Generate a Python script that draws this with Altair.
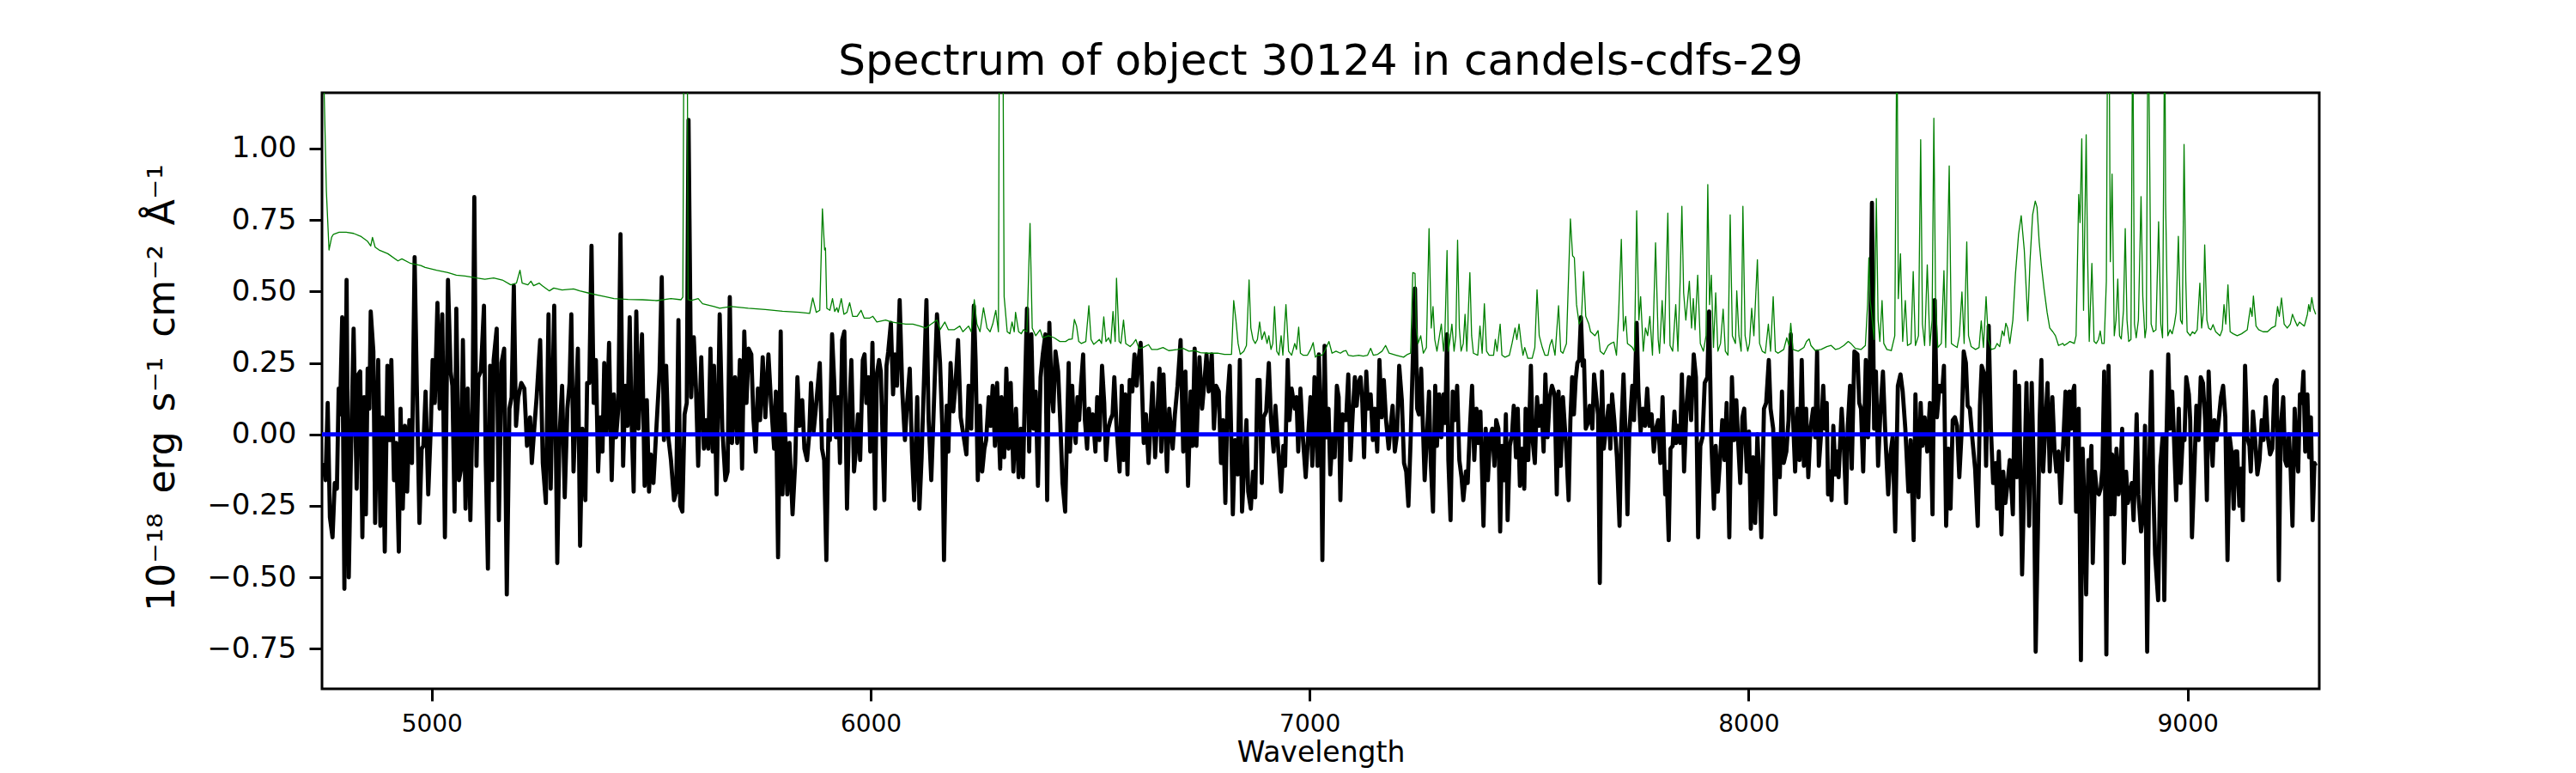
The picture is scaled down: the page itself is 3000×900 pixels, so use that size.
import altair as alt
import pandas as pd

TITLE = "Spectrum of object 30124 in candels-cdfs-29"
X_TITLE = "Wavelength"
Y_TITLE = "10⁻¹⁸ \u2009erg \u2009s⁻¹ \u2009cm⁻² \u2009Å⁻¹"
X_TICKS = [5000, 6000, 7000, 8000, 9000]
Y_TICKS = [-0.75, -0.5, -0.25, 0.0, 0.25, 0.5, 0.75, 1.0]

# observed flux (black), (wavelength [A], flux)
FLUX_A = [(4753,-0.10),(4758,-0.16),(4763,0.11),(4768,-0.29),(4774,-0.36),(4779,-0.17),(4784,-0.19),(4788,0.16),(4791,0.07),(4796,0.41),
(4801,-0.54),(4806,0.54),(4811,-0.50),(4815,-0.15),(4822,0.37),(4829,-0.19),(4833,0.21),(4837,0.22),(4842,-0.36),(4846,0.13),
(4850,-0.28),(4854,0.23),(4858,0.09),(4861,0.43),(4867,0.29),(4871,-0.31),(4878,0.26),(4883,-0.32),(4888,0.06),(4893,-0.41),
(4899,0.24),(4904,-0.02),(4908,0.26),(4914,-0.16),(4919,-0.03),(4925,-0.41),(4929,0.09),(4934,-0.26),(4939,0.03),(4944,-0.20),
(4949,0.05),(4955,-0.10),(4961,0.62),(4966,0.17),(4972,-0.31),(4977,-0.05),(4981,-0.04),(4986,0.15),(4992,-0.21),(4998,0.03),
(5002,0.26),(5007,0.11),(5013,0.46),(5018,0.09),(5024,0.42),(5030,-0.36),(5037,0.54),(5043,0.22),(5047,0.17),(5052,-0.27),
(5056,0.44),(5062,-0.16),(5067,-0.12),(5071,0.33),(5077,-0.26),(5082,0.16),(5088,-0.30),(5093,0.10),(5097,0.83),(5102,-0.11),
(5106,0.20),(5112,0.22),(5119,0.45),(5123,-0.09),(5128,-0.47),(5133,0.24),(5138,-0.16),(5141,0.26),(5148,0.37),(5153,-0.30),
(5159,0.25),(5165,0.30),(5171,-0.56),(5177,0.09),(5182,0.13),(5187,0.52),(5192,0.03),(5197,0.13),(5204,0.18),(5211,0.16),
(5217,-0.04),(5224,0.06),(5228,-0.10),(5234,0.03),(5239,0.13),(5247,0.33),(5253,-0.10),(5260,-0.24),(5266,0.42),(5271,-0.19),
(5279,0.45),(5286,-0.45),(5291,-0.01),(5297,0.17),(5303,-0.22),(5309,0.09),(5314,0.18),(5318,0.42),(5323,-0.13)]

FLUX_B = [(5333,0.30),(5338,-0.39),(5343,0.02),(5350,-0.23),(5354,0.18),(5359,0.18),(5364,0.66),(5369,0.11),(5374,0.26),(5379,-0.13),
(5384,0.06),(5389,-0.06),(5393,0.25),(5398,0.00),(5404,0.32),(5410,-0.16),(5415,0.14),(5420,-0.01),(5425,0.09),(5430,0.70),
(5436,-0.11),(5441,0.17),(5446,0.03),(5451,0.41),(5455,0.06),(5460,-0.20),(5466,0.43),(5471,0.02),(5479,0.35),(5485,-0.18),
(5490,0.12),(5495,-0.20),(5499,-0.07),(5505,-0.17),(5511,0.00),(5519,0.22),(5524,0.55),(5529,-0.02),(5534,0.24),(5539,-0.01),
(5545,-0.09),(5552,-0.23),(5557,-0.20),(5562,0.40),(5566,-0.25),(5571,-0.27),(5576,0.07),(5581,0.11),(5585,1.10),(5591,0.13),
(5597,0.34),(5602,0.16),(5607,-0.11),(5614,0.27),(5620,-0.05),(5625,0.05),(5630,-0.05),(5635,0.30),(5640,-0.06),(5643,0.24),
(5649,-0.21),(5656,0.42),(5662,0.02),(5669,-0.16),(5674,-0.13),(5679,0.48),(5684,-0.03),(5691,0.20),(5696,-0.03),(5702,0.26),
(5707,-0.12),(5712,0.36),(5717,0.11),(5722,0.30),(5728,0.28),(5733,0.05),(5738,-0.06),(5743,0.16),(5748,0.05),(5754,0.27),
(5760,0.06),(5767,0.28),(5773,0.11),(5780,-0.05),(5784,0.15),(5789,-0.43),(5795,0.36),(5799,-0.21),(5804,0.07),(5810,-0.21),
(5815,-0.03),(5822,-0.28),(5828,-0.10),(5833,0.20),(5838,0.03),(5844,0.12),(5849,-0.05),(5855,-0.09),(5860,0.00),(5864,0.18),
(5870,0.01),(5875,0.09)]

FLUX_C = [(5884,0.25),(5889,-0.05),(5894,-0.09),(5899,-0.44),(5904,0.05),(5907,-0.02),(5912,0.35),(5917,0.18),(5921,-0.01),(5926,0.13),
(5930,-0.10),(5935,0.33),(5940,0.36),(5946,-0.26),(5951,0.07),(5956,0.26),(5962,-0.13),(5966,-0.06),(5971,0.07),(5976,-0.09),
(5982,0.26),(5986,0.28),(5990,0.11),(5995,0.20),(5999,-0.06),(6004,0.32),(6010,-0.26),(6014,0.21),(6019,0.26),(6023,0.22),
(6031,-0.23),(6036,0.24),(6040,0.29),(6046,0.39),(6051,0.14),(6055,0.28),(6060,0.17),(6066,0.47),(6072,0.15),(6078,-0.02),
(6083,0.11),(6089,0.23),(6094,-0.06),(6099,-0.23),(6106,0.13),(6111,-0.26),(6116,-0.08),(6120,0.12),(6127,0.47),(6132,0.05),
(6138,-0.16),(6145,0.15),(6151,0.42),(6158,0.25),(6163,0.03),(6167,-0.44),(6173,0.10),(6177,-0.06),(6182,0.25),(6188,0.08),
(6193,0.17),(6199,0.33),(6205,0.06),(6213,-0.02),(6218,-0.07),(6223,0.17),(6229,0.02),(6235,0.45),(6239,0.26),(6244,-0.16),
(6249,0.10),(6254,-0.13),(6259,-0.05),(6263,-0.02),(6269,0.13),(6273,0.03),(6278,0.17),(6283,-0.04),(6288,0.18),(6295,-0.12),
(6298,0.13),(6304,-0.08),(6309,0.23),(6314,-0.05),(6319,0.18),(6325,-0.13),(6331,0.09),(6337,-0.15),(6342,0.02),(6347,-0.15),
(6351,0.13),(6356,0.44),(6361,-0.06),(6366,0.35),(6371,0.02),(6376,0.15),(6381,-0.18),(6387,0.20),(6392,0.28),(6398,0.35),
(6402,-0.23),(6407,0.39),(6412,0.15),(6416,0.08),(6421,0.29),(6427,0.22),(6432,0.04),(6437,-0.17),(6443,-0.27)]

FLUX_D = [(6451,0.25),(6454,-0.06),(6459,0.17),(6463,0.02),(6467,-0.03),(6471,0.13),(6475,0.05),(6479,0.17),(6484,0.28),(6488,0.05),
(6493,-0.05),(6497,0.09),(6502,0.00),(6506,0.07),(6512,-0.06),(6516,0.13),(6521,-0.02),(6527,0.24),(6532,0.11),(6536,-0.09),
(6541,0.02),(6546,0.05),(6551,0.07),(6555,0.20),(6560,0.03),(6567,-0.13),(6572,0.17),(6576,-0.09),(6580,0.14),(6585,-0.14),
(6590,0.19),(6596,0.15),(6601,0.28),(6606,0.17),(6610,0.26),(6615,0.32),(6622,-0.03),(6627,0.07),(6633,-0.10),(6637,0.02),
(6642,0.18),(6648,-0.08),(6653,0.07),(6658,0.23),(6662,-0.06),(6667,0.21),(6675,-0.13),(6680,0.09),(6688,-0.05),(6693,0.07),
(6699,0.17),(6706,0.33),(6712,-0.06),(6717,0.22),(6723,-0.18),(6729,0.15),(6733,-0.04),(6738,0.30),(6742,-0.04),(6749,0.27),
(6755,0.09),(6760,0.18),(6765,0.28),(6770,0.15),(6777,0.28),(6782,0.02),(6787,0.17),(6793,0.15),(6798,-0.10),(6803,0.05),
(6808,-0.24),(6813,0.13),(6818,0.24),(6825,-0.28),(6830,-0.02),(6836,-0.14),(6841,0.26),(6846,-0.27),(6851,-0.11),(6856,0.05),
(6860,-0.20),(6866,-0.26),(6871,-0.13),(6876,-0.22),(6881,0.19),(6886,0.19),(6891,-0.17),(6895,0.06),(6901,0.08),(6907,0.25),
(6912,0.05),(6918,-0.06),(6922,0.10),(6927,-0.02),(6935,-0.20),(6940,-0.04),(6944,-0.11),(6950,0.26),(6954,0.05),(6959,0.16),
(6966,0.09),(6970,0.13),(6974,-0.06),(6979,0.16),(6985,-0.02),(6991,-0.15),(6996,-0.02),(7002,0.13),(7006,-0.11),(7011,0.20)]

FLUX_E = [(7018,-0.11),(7021,0.28),(7026,0.02),(7029,-0.44),(7034,0.31),(7038,-0.01),(7043,0.09),(7047,-0.14),(7052,-0.01),(7057,-0.08),
(7062,0.17),(7066,0.13),(7070,-0.23),(7075,0.07),(7080,0.05),(7083,0.05),(7088,0.21),(7093,-0.09),(7098,0.07),(7103,0.20),
(7107,0.10),(7111,0.18),(7116,0.20),(7120,0.11),(7124,-0.08),(7129,0.22),(7133,0.09),(7139,0.14),(7144,-0.02),(7148,0.09),
(7154,-0.06),(7159,0.26),(7164,0.06),(7169,0.19),(7174,0.05),(7180,-0.05),(7184,0.02),(7189,0.10),(7194,-0.06),(7199,0.00),
(7204,0.24),(7210,0.12),(7215,-0.10),(7220,-0.13),(7225,-0.25),(7230,-0.02),(7235,0.26),(7240,0.51),(7245,0.09),(7249,0.07),
(7254,0.23),(7258,0.03),(7262,-0.16),(7267,-0.01),(7272,0.15),(7276,-0.10),(7281,-0.27),(7286,0.17),(7290,-0.04),(7295,0.14),
(7300,-0.01),(7305,0.14),(7309,0.04),(7313,0.35),(7316,-0.09),(7321,-0.30),(7326,0.15),(7331,0.05),(7336,0.17),(7341,-0.09),
(7346,-0.15),(7350,-0.23),(7356,-0.13),(7360,-0.17),(7365,0.02),(7370,0.17),(7375,-0.09),(7380,0.09),(7384,-0.03),(7389,0.08),
(7396,-0.32),(7401,0.02),(7406,-0.16),(7411,-0.01),(7416,0.02),(7421,-0.11),(7425,0.05),(7430,0.02),(7434,-0.34),(7438,-0.04),
(7443,-0.16),(7447,0.07),(7451,-0.30),(7456,-0.04),(7461,0.00),(7465,0.10),(7470,-0.08),(7474,0.09),(7479,-0.18),(7484,-0.05),
(7489,-0.19),(7492,0.09),(7498,-0.09),(7504,0.24),(7508,-0.02),(7513,-0.10),(7518,0.13),(7523,0.03),(7528,0.10),(7533,-0.06),
(7537,0.21),(7542,-0.01),(7547,0.13),(7552,0.17),(7558,0.14),(7563,-0.21),(7567,0.15),(7572,-0.11),(7577,0.13)]

FLUX_F = [(7585,-0.06),(7590,-0.23),(7594,0.05),(7598,0.20),(7602,0.07),(7606,0.19),(7610,0.25),(7614,0.26),(7618,0.41),(7622,0.24),
(7625,0.26),(7629,0.02),(7634,0.04),(7638,0.10),(7644,0.02),(7648,0.21),(7653,0.13),(7657,0.07),(7661,-0.52),(7666,0.22),
(7670,-0.05),(7675,0.02),(7681,0.10),(7685,-0.05),(7689,0.14),(7694,0.05),(7700,-0.08),(7706,-0.32),(7710,0.02),(7715,0.21),
(7720,-0.01),(7724,-0.28),(7728,0.00),(7735,0.17),(7739,0.05),(7745,0.39),(7749,0.15),(7754,0.01),(7759,0.09),(7764,0.03),
(7769,0.16),(7774,0.03),(7779,0.07),(7784,-0.06),(7789,0.02),(7794,0.05),(7799,-0.10),(7804,0.13),(7810,-0.21),(7813,-0.13),
(7818,-0.37),(7822,-0.05),(7827,-0.04),(7831,0.08),(7835,-0.03),(7839,0.03),(7844,-0.03),(7848,0.21),(7853,-0.13),(7859,0.11),
(7864,0.20),(7869,0.05),(7875,0.28),(7880,0.20),(7885,-0.36),(7890,-0.04),(7895,-0.01),(7900,0.18),(7906,0.20),(7910,0.43),
(7915,-0.02),(7921,-0.26),(7925,-0.04),(7930,-0.20),(7936,-0.06),(7940,0.05),(7945,-0.09),(7950,0.11),(7956,-0.36),(7962,0.20),
(7967,-0.02),(7972,0.12),(7976,-0.02),(7981,-0.17),(7986,0.06),(7990,0.09),(7996,-0.13),(8001,0.01),(8005,-0.33),(8010,-0.08),
(8015,-0.31),(8020,0.00),(8025,-0.19),(8029,-0.36),(8035,0.09),(8040,0.11),(8046,0.26),(8050,0.09),(8056,0.02),(8061,-0.28),
(8065,0.00),(8071,-0.15),(8076,0.15),(8080,-0.10),(8086,-0.06),(8091,0.05),(8096,0.35),(8100,0.10),(8106,-0.13),(8111,0.09),
(8116,-0.09),(8121,0.26),(8126,-0.11),(8131,0.09),(8136,-0.15),(8141,0.02),(8147,0.09)]

FLUX_G = [(8152,-0.01),(8156,0.29),(8160,-0.11),(8165,0.00),(8170,0.17),(8174,0.02),(8178,0.11),(8181,-0.21),(8186,-0.13),(8189,-0.23),
(8193,0.03),(8198,-0.14),(8201,-0.06),(8205,-0.15),(8212,0.09),(8217,-0.04),(8222,-0.24),(8226,0.03),(8231,0.17),(8235,-0.12),
(8241,0.29),(8248,0.28),(8252,0.11),(8256,0.09),(8261,-0.13),(8267,0.26),(8272,-0.01),(8276,0.20),(8281,0.81),(8286,0.02),
(8290,0.22),(8295,-0.11),(8300,0.07),(8306,0.22),(8312,-0.02),(8318,-0.21),(8323,-0.07),(8328,-0.01),(8334,-0.34),(8340,0.17),
(8346,0.21),(8351,0.15),(8357,0.02),(8364,-0.20),(8369,-0.02),(8376,-0.37),(8380,0.14),(8387,-0.22),(8392,0.11),(8396,-0.04),
(8401,0.06),(8407,-0.06),(8413,0.11),(8419,-0.28),(8424,0.47),(8429,0.06),(8435,0.17),(8441,0.15),(8445,0.24),(8450,-0.32),
(8455,-0.05),(8460,-0.26),(8465,0.05),(8470,0.06),(8475,0.03),(8480,-0.15),(8485,0.00),(8490,0.29),(8495,0.25),(8499,0.10),
(8504,0.09),(8510,-0.02),(8516,-0.12),(8522,-0.32),(8527,0.10),(8531,0.24),(8537,0.21),(8541,-0.11),(8547,0.38),(8552,0.02),
(8557,-0.17),(8563,-0.10),(8566,-0.26),(8570,-0.06),(8576,-0.35),(8580,-0.13),(8585,-0.24),(8590,-0.17),(8595,-0.09),(8602,-0.28),
(8607,0.22),(8611,-0.15),(8616,0.17),(8623,-0.49),(8628,-0.16),(8633,0.18),(8639,-0.32),(8645,0.18),(8650,-0.15),(8654,-0.76),
(8659,-0.34),(8663,0.05),(8667,0.26),(8671,-0.13),(8676,0.03),(8681,0.18),(8686,-0.13),(8692,0.13),(8697,-0.06),(8701,-0.13),
(8706,-0.06),(8711,-0.24),(8715,-0.09)]

FLUX_H = [(8722,0.15),(8727,-0.09),(8731,0.15),(8735,0.02),(8739,0.15),(8742,0.17),(8746,-0.27),(8752,0.09),(8757,-0.79),(8761,-0.05),
(8765,-0.25),(8769,-0.56),(8774,-0.09),(8778,-0.15),(8781,-0.04),(8784,-0.45),(8789,-0.13),(8793,-0.20),(8798,-0.21),(8802,-0.19),
(8806,-0.12),(8810,0.22),(8815,-0.77),(8820,0.24),(8825,-0.28),(8828,-0.07),(8833,-0.28),(8838,-0.05),(8843,-0.21),(8847,-0.13),
(8851,0.02),(8855,-0.45),(8860,-0.13),(8864,-0.24),(8869,-0.20),(8873,-0.17),(8877,-0.30),(8881,-0.09),(8884,0.07),(8888,-0.21),
(8894,-0.34),(8899,-0.27),(8903,0.03),(8908,-0.76),(8913,-0.09),(8918,0.22),(8922,-0.19),(8926,-0.42),(8933,-0.58),(8938,-0.11),
(8943,-0.01),(8947,-0.58),(8952,-0.01),(8956,0.28),(8960,0.02),(8965,0.15),(8969,-0.01),(8974,-0.23),(8980,0.09),(8984,-0.17),
(8989,-0.01),(8993,-0.02),(8997,0.20),(9003,0.14),(9006,0.05),(9010,-0.36),(9016,-0.10),(9020,0.10),(9025,-0.02),(9030,0.20),
(9035,0.18),(9040,0.05),(9044,-0.23),(9048,0.22),(9053,0.00),(9057,-0.11),(9061,0.05),(9066,-0.02),(9071,0.05),(9076,0.13),
(9081,0.17),(9086,0.06),(9091,-0.44),(9096,-0.01),(9100,-0.06),(9105,-0.26),(9109,-0.06),(9113,-0.06),(9118,-0.25),(9122,-0.12),
(9126,-0.30),(9131,0.24),(9136,-0.01),(9141,-0.04),(9144,-0.13),(9149,0.08),(9154,-0.02),(9159,-0.14),(9164,-0.09),(9169,0.05),
(9173,-0.02),(9178,0.13),(9183,-0.01),(9188,-0.07),(9193,-0.05),(9198,0.17),(9203,0.19),(9208,-0.51),(9212,0.02),(9218,0.13),
(9222,-0.09),(9226,-0.11),(9231,0.00),(9235,-0.13),(9239,-0.32),(9244,0.09),(9248,-0.05),(9252,-0.13),(9256,0.14),(9260,0.11),
(9264,0.22),(9268,-0.06),(9273,0.14),(9277,-0.08),(9281,0.06),(9285,-0.30),(9289,-0.10),(9292,-0.11)]

# noise spectrum (green), (wavelength [A], sigma)
ERR_A = [(4750,1.80),(4755,1.19),(4760,0.85),(4766,0.645),(4772,0.69),(4776,0.70),(4789,0.707),(4805,0.707),(4822,0.703),(4838,0.693),
(4854,0.675),(4861,0.659),(4865,0.689),(4871,0.655),(4880,0.645),(4900,0.632),(4923,0.607),(4932,0.614),(4952,0.598),(4975,0.591),
(4985,0.584),(5011,0.574),(5037,0.566),(5056,0.557),(5076,0.554),(5102,0.547),(5121,0.543),(5141,0.547),(5161,0.540),(5180,0.523),
(5193,0.529),(5201,0.574),(5206,0.529),(5219,0.523),(5226,0.536),(5232,0.520),(5245,0.529),(5252,0.520),(5268,0.502),(5278,0.512),
(5297,0.505),(5323,0.509)]
ERR_B = [(5337,0.502),(5356,0.495),(5376,0.488),(5395,0.482),(5415,0.475),(5447,0.472),(5480,0.471),(5513,0.468),(5545,0.475),(5568,0.471),
(5572,0.480),(5576,2.0),(5581,2.0),(5584,0.471),(5591,0.468),(5607,0.475),(5617,0.457),(5643,0.447),(5656,0.441),(5682,0.447),
(5721,0.441),(5760,0.437),(5799,0.431),(5838,0.427),(5861,0.423),(5868,0.477),(5876,0.427)]
ERR_C = [(5884,0.434),(5890,0.789),(5895,0.645),(5897,0.652),(5900,0.441),(5907,0.434),(5913,0.475),(5918,0.430),(5923,0.443),(5926,0.427),
(5933,0.475),(5939,0.420),(5946,0.427),(5952,0.461),(5959,0.413),(5969,0.413),(5978,0.434),(5985,0.407),(5998,0.407),(6005,0.413),
(6014,0.393),(6034,0.400),(6047,0.393),(6066,0.389),(6080,0.386),(6096,0.386),(6112,0.379),(6125,0.372),(6138,0.386),(6151,0.400),
(6158,0.366),(6169,0.393),(6177,0.366),(6190,0.366),(6203,0.379),(6210,0.359),(6223,0.379),(6229,0.359),(6236,0.471),(6242,0.386),
(6249,0.359),(6257,0.443),(6265,0.372),(6272,0.359),(6278,0.386),(6285,0.434),(6291,0.359),(6295,2.5),(6298,2.5),(6304,0.482),
(6311,0.359),(6317,0.352),(6322,0.393),(6327,0.359),(6330,0.427),(6337,0.359),(6343,0.352),(6348,0.366),(6356,0.359),(6363,0.738),
(6368,0.372),(6376,0.345),(6386,0.366),(6392,0.338),(6405,0.345),(6418,0.338),(6431,0.325),(6444,0.325)]
ERR_D = [(6451,0.332),(6459,0.334),(6464,0.402),(6469,0.379),(6474,0.325),(6480,0.318),(6490,0.325),(6497,0.450),(6502,0.332),(6508,0.315),
(6516,0.325),(6521,0.332),(6526,0.318),(6531,0.411),(6536,0.325),(6542,0.338),(6547,0.318),(6552,0.430),(6557,0.325),(6560,0.546),
(6566,0.325),(6570,0.318),(6576,0.400),(6581,0.318),(6591,0.307),(6598,0.318),(6604,0.332),(6611,0.301),(6620,0.304),(6633,0.314),
(6640,0.297),(6653,0.297),(6666,0.304),(6679,0.293),(6699,0.297),(6712,0.301),(6725,0.291),(6738,0.293),(6751,0.286),(6770,0.284),
(6790,0.284),(6806,0.280),(6822,0.280),(6827,0.468),(6832,0.400),(6837,0.318),(6842,0.280),(6850,0.291),(6856,0.311),(6862,0.540),
(6866,0.372),(6871,0.332),(6876,0.318),(6881,0.332),(6886,0.393),(6891,0.332),(6897,0.359),(6903,0.318),(6907,0.345),(6912,0.297),
(6916,0.318),(6920,0.447),(6925,0.291),(6930,0.277),(6935,0.345),(6939,0.277),(6946,0.454),(6952,0.291),(6959,0.277),(6966,0.318),
(6970,0.297),(6975,0.375),(6979,0.284),(6985,0.277),(6995,0.277),(7002,0.297),(7008,0.321),(7013,0.270)]
ERR_E = [(7018,0.277),(7028,0.277),(7034,0.291),(7044,0.325),(7051,0.284),(7060,0.291),(7070,0.284),(7077,0.291),(7083,0.293),(7088,0.277),
(7099,0.274),(7112,0.277),(7122,0.274),(7132,0.277),(7139,0.301),(7145,0.277),(7155,0.280),(7165,0.291),(7173,0.311),(7181,0.284),
(7197,0.277),(7214,0.270),(7223,0.280),(7230,0.284),(7235,0.566),(7240,0.563),(7243,0.372),(7247,0.318),(7253,0.345),(7259,0.284),
(7266,0.304),(7272,0.720),(7277,0.372),(7281,0.447),(7285,0.332),(7290,0.291),(7295,0.338),(7300,0.386),(7305,0.291),(7308,0.345),
(7313,0.643),(7316,0.291),(7321,0.345),(7324,0.386),(7329,0.291),(7333,0.345),(7337,0.679),(7341,0.372),(7345,0.291),(7350,0.318),
(7354,0.420),(7358,0.291),(7365,0.566),(7369,0.345),(7373,0.284),(7383,0.277),(7388,0.379),(7393,0.284),(7398,0.457),(7403,0.291),
(7409,0.277),(7419,0.277),(7423,0.332),(7427,0.291),(7434,0.386),(7438,0.277),(7445,0.270),(7455,0.277),(7461,0.318),(7468,0.372),
(7472,0.332),(7477,0.386),(7482,0.318),(7486,0.277),(7490,0.304),(7497,0.266),(7507,0.266),(7513,0.304),(7518,0.506),(7523,0.345),
(7530,0.304),(7536,0.277),(7543,0.277),(7547,0.311),(7552,0.332),(7559,0.277),(7567,0.450),(7572,0.291),(7577,0.284)]
ERR_F = [(7585,0.318),(7594,0.754),(7599,0.625),(7603,0.618),(7608,0.454),(7614,0.386),(7619,0.400),(7624,0.570),(7629,0.413),(7636,0.386),
(7640,0.359),(7645,0.352),(7650,0.345),(7657,0.363),(7662,0.291),(7670,0.280),(7680,0.311),(7686,0.318),(7693,0.323),(7699,0.277),
(7704,0.427),(7710,0.682),(7715,0.362),(7720,0.413),(7724,0.318),(7730,0.311),(7735,0.304),(7740,0.291),(7745,0.782),(7750,0.400),
(7754,0.482),(7760,0.291),(7765,0.372),(7770,0.345),(7775,0.413),(7781,0.277),(7788,0.670),(7794,0.332),(7797,0.284),(7803,0.468),
(7808,0.318),(7816,0.774),(7821,0.311),(7827,0.291),(7834,0.454),(7839,0.291),(7844,0.536),(7848,0.798),(7852,0.495),(7857,0.400),
(7865,0.536),(7870,0.372),(7874,0.475),(7878,0.366),(7884,0.557),(7890,0.318),(7897,0.291),(7903,0.345),(7907,0.874),(7911,0.454),
(7915,0.557),(7920,0.304),(7925,0.495),(7930,0.291),(7936,0.318),(7942,0.438),(7947,0.291),(7953,0.277),(7958,0.768),(7963,0.345),
(7970,0.318),(7973,0.502),(7978,0.345),(7983,0.291),(7987,0.798),(7992,0.345),(7998,0.291),(8002,0.318),(8007,0.441),(8012,0.345),
(8020,0.611),(8025,0.318),(8031,0.291),(8038,0.284),(8045,0.386),(8050,0.291),(8056,0.482),(8061,0.291),(8067,0.284),(8074,0.291),
(8080,0.297),(8087,0.338),(8092,0.311),(8096,0.389),(8101,0.297),(8113,0.291),(8126,0.304),(8132,0.325),(8138,0.334),(8142,0.311)]
ERR_G = [(8152,0.293),(8165,0.297),(8178,0.307),(8188,0.311),(8198,0.297),(8207,0.301),(8217,0.311),(8227,0.325),(8233,0.318),(8243,0.301),
(8256,0.297),(8266,0.311),(8271,0.454),(8274,0.618),(8277,0.468),(8280,0.427),(8286,0.332),(8291,0.825),(8295,0.400),(8299,0.325),
(8304,0.468),(8308,0.318),(8315,0.297),(8325,0.293),(8333,0.345),(8338,1.50),(8341,0.475),(8346,0.632),(8351,0.325),(8357,0.468),
(8362,0.311),(8370,0.318),(8375,0.570),(8380,0.311),(8387,0.345),(8392,1.031),(8396,0.386),(8401,0.311),(8407,0.593),(8413,0.311),
(8418,0.400),(8422,1.106),(8426,0.454),(8431,0.304),(8439,0.318),(8445,0.573),(8449,0.304),(8457,0.939),(8462,0.318),(8468,0.311),
(8475,0.304),(8480,0.345),(8486,0.498),(8491,0.318),(8497,0.673),(8501,0.345),(8507,0.307),(8517,0.297),(8525,0.304),(8530,0.397),
(8535,0.304),(8541,0.482),(8546,0.332),(8553,0.297),(8561,0.301),(8566,0.318),(8572,0.307),(8578,0.362),(8582,0.345),(8586,0.389),
(8590,0.372),(8595,0.318),(8602,0.400),(8608,0.563),(8615,0.700),(8621,0.765),(8628,0.645),(8636,0.397),(8641,0.604),(8647,0.768),
(8653,0.816),(8657,0.795),(8662,0.673),(8667,0.591),(8673,0.509),(8680,0.427),(8686,0.372),(8693,0.359),(8699,0.345),(8706,0.311),
(8716,0.318)]
ERR_H = [(8719,0.311),(8726,0.318),(8732,0.325),(8742,0.318),(8746,0.345),(8752,0.839),(8755,0.741),(8759,1.034),(8763,0.434),(8769,1.048),
(8772,0.645),(8776,0.325),(8782,0.598),(8787,0.325),(8792,0.318),(8797,0.332),(8801,0.362),(8805,0.318),(8810,0.318),(8815,0.536),
(8818,1.50),(8821,1.50),(8824,0.604),(8828,0.911),(8833,0.345),(8837,0.400),(8841,0.543),(8845,0.345),(8849,0.334),(8854,0.434),
(8858,0.720),(8862,0.400),(8866,0.325),(8871,0.332),(8875,1.50),(8879,0.386),(8883,0.338),(8888,0.400),(8894,0.832),(8898,0.482),
(8903,0.338),(8906,0.372),(8910,1.50),(8913,1.082),(8917,0.386),(8922,0.359),(8928,0.366),(8934,0.744),(8939,0.386),(8943,0.338),
(8948,1.50),(8950,0.809),(8955,0.345),(8960,0.366),(8965,0.352),(8970,0.386),(8974,0.427),(8979,0.693),(8984,0.400),(8988,0.386),
(8992,1.014),(8996,0.536),(8999,0.359),(9006,0.345),(9011,0.359),(9016,0.352),(9022,0.366),(9028,0.529),(9032,0.372),(9036,0.427),
(9039,0.663),(9044,0.400),(9048,0.372),(9053,0.366),(9058,0.384),(9064,0.359),(9074,0.345),(9079,0.366),(9083,0.454),(9087,0.386),
(9092,0.523),(9097,0.359),(9104,0.352),(9113,0.345),(9123,0.352),(9136,0.366),(9143,0.443),(9147,0.413),(9150,0.484),(9156,0.379),
(9162,0.366),(9172,0.359),(9182,0.359),(9191,0.372),(9200,0.379),(9205,0.447),(9209,0.413),(9214,0.477),(9220,0.386),(9227,0.372),
(9234,0.386),(9239,0.420),(9244,0.400),(9250,0.379),(9255,0.393),(9260,0.386),(9266,0.379),(9273,0.420),(9276,0.454),(9279,0.430),
(9283,0.479),(9287,0.441),(9292,0.420)]

# best-fit model (blue)
MODEL_WAVE = [4750, 9300]
MODEL_FLUX = [0.0, 0.0]


def to_frame(segments):
    rows = [{"wavelength": w, "flux": f} for seg in segments for (w, f) in seg]
    return pd.DataFrame(rows)


flux_df = to_frame([FLUX_A, FLUX_B, FLUX_C, FLUX_D, FLUX_E, FLUX_F, FLUX_G, FLUX_H])
err_df = to_frame([ERR_A, ERR_B, ERR_C, ERR_D, ERR_E, ERR_F, ERR_G, ERR_H])
model_df = pd.DataFrame({"wavelength": MODEL_WAVE, "flux": MODEL_FLUX})

FONT = "DejaVu Sans"

x_enc = alt.X(
    "wavelength:Q",
    scale=alt.Scale(domain=[4750, 9300], nice=False, zero=False),
    axis=alt.Axis(
        values=X_TICKS, format="d", title=X_TITLE,
        labelFontSize=28, titleFontSize=33,
        tickSize=14, labelPadding=13,
        titleBaseline="alphabetic", titleY=84, titleX=1163,
        titleAlign="center",
    ),
)
y_enc = alt.Y(
    "flux:Q",
    scale=alt.Scale(domain=[-0.89, 1.195], nice=False, zero=False),
    axis=alt.Axis(
        values=Y_TICKS, format=".2f", title=Y_TITLE,
        labelFontSize=34, titleFontSize=44,
        tickSize=15, labelPadding=15,
        titleAngle=270, titleBaseline="alphabetic", titleAlign="center",
        titleX=-173, titleY=343,
    ),
)

sci = alt.Chart(flux_df).mark_line(
    color="#000000", strokeWidth=4.8, clip=True, strokeJoin="round"
).encode(x=x_enc, y=y_enc)

model = alt.Chart(model_df).mark_line(
    color="#0000ff", strokeWidth=5, clip=True
).encode(x=x_enc, y=y_enc)

noise = alt.Chart(err_df).mark_line(
    color="#008000", strokeWidth=1.3, clip=True, strokeJoin="round"
).encode(x=x_enc, y=y_enc)

chart = alt.layer(sci, model, noise).properties(
    width=2326,
    height=694,
    title=alt.TitleParams(
        text=TITLE, fontSize=50, font=FONT, fontWeight="normal",
        anchor="middle", baseline="alphabetic", offset=25, dy=54,
        color="#000000",
    ),
    autosize=alt.AutoSizeParams(type="none"),
    padding={"left": 367, "top": 100, "right": 60, "bottom": 92},
    background="#ffffff",
).configure_view(
    stroke="#000000", strokeWidth=3
).configure_axis(
    domain=False, grid=False, ticks=True,
    tickColor="#000000", tickWidth=3,
    labelColor="#000000", titleColor="#000000",
    labelFont=FONT, titleFont=FONT,
    titleFontWeight="normal",
)

chart.save("out.html", embed_options={"renderer": "svg", "actions": False})
